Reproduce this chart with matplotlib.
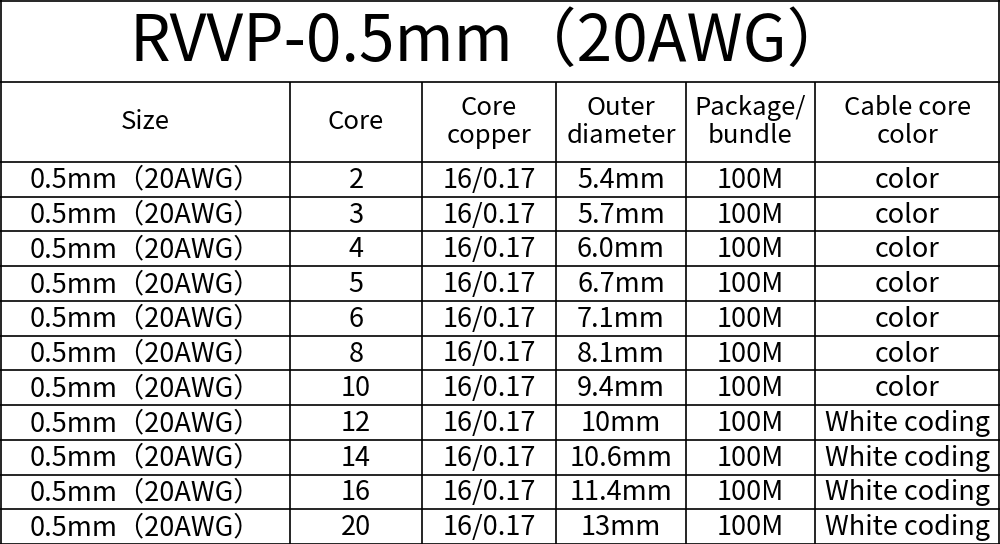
import matplotlib.pyplot as plt

plt.rcParams['font.family'] = ['Noto Sans CJK SC', 'DejaVu Sans']

title = "RVVP-0.5mm（20AWG）"
headers = ["Size", "Core", "Core\ncopper", "Outer\ndiameter", "Package/\nbundle", "Cable core\ncolor"]
cores = ["2", "3", "4", "5", "6", "8", "10", "12", "14", "16", "20"]
diameters = ["5.4mm", "5.7mm", "6.0mm", "6.7mm", "7.1mm", "8.1mm", "9.4mm",
             "10mm", "10.6mm", "11.4mm", "13mm"]
colors = ["color"] * 7 + ["White coding"] * 4
size_label = "0.5mm（20AWG）"
copper = "16/0.17"
package = "100M"

col_edges = [0, 290, 422, 556, 686, 815, 1000]
title_bottom = 82
header_bottom = 162
height = 544

fig = plt.figure(figsize=(10, 5.44), dpi=100)
ax = fig.add_axes([0, 0, 1, 1])
ax.set_xlim(0, 1000)
ax.set_ylim(height, 0)
ax.axis("off")

row_h = (height - header_bottom) / len(cores)

# grid lines
lw = 1.2
ax.hlines([1, title_bottom, header_bottom], 0, 1000, color="black", lw=lw)
for i in range(1, len(cores) + 1):
    ax.hlines(header_bottom + i * row_h, 0, 1000, color="black", lw=lw)
ax.vlines([1, 999], 0, height, color="black", lw=lw)
ax.vlines(col_edges[1:-1], title_bottom, height, color="black", lw=lw)

ax.text(490, title_bottom / 2 + 2, title, ha="center", va="center", fontsize=46)

centers = [(a + b) / 2 for a, b in zip(col_edges[:-1], col_edges[1:])]
for cx, h in zip(centers, headers):
    ax.text(cx, (title_bottom + header_bottom) / 2, h, ha="center", va="center",
            fontsize=18.5, linespacing=1.1)

for i, (c, d, col) in enumerate(zip(cores, diameters, colors)):
    cy = header_bottom + (i + 0.5) * row_h + 1
    row = [size_label, c, copper, d, package, col]
    for cx, val in zip(centers, row):
        ax.text(cx, cy, val, ha="center", va="center", fontsize=19.5)

fig.savefig("out.png", dpi=100)
